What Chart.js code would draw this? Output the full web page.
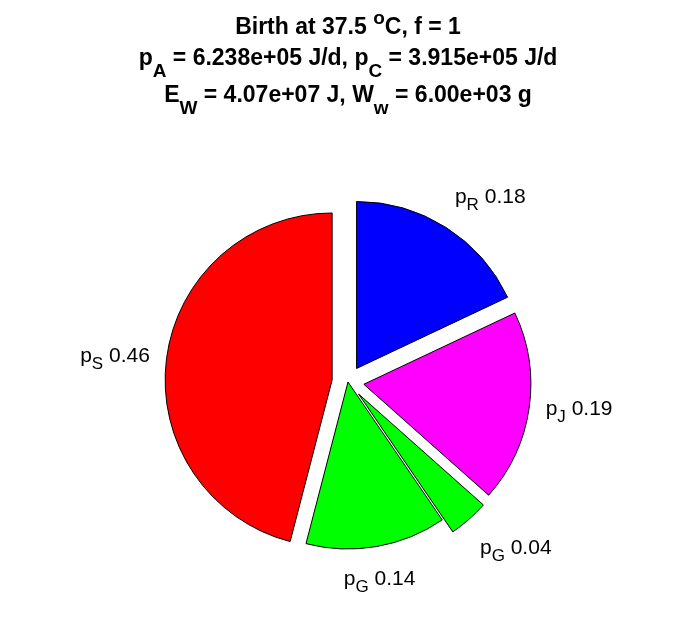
<!DOCTYPE html>
<html>
<head>
<meta charset="utf-8">
<script src="https://cdn.jsdelivr.net/npm/chart.js@4.4.0/dist/chart.umd.min.js"></script>
<style>
  html, body { margin: 0; padding: 0; background: #fff; }
  #wrap { width: 696px; height: 618px; }
</style>
</head>
<body>
<div id="wrap"><canvas id="canvas" width="696" height="618"></canvas></div>
<script>
// pie slices, clockwise from 12 o'clock
const subs = ['R', 'J', 'G', 'G', 'S'];
const fractions = [0.180, 0.186, 0.039, 0.136, 0.460];
const colors = ['#0000ff', '#ff00ff', '#00ff00', '#00ff00', '#ff0000'];
const explode = [1, 1, 1, 0, 1];

// title lines: [text, '' | 'sub' | 'sup']
const titleLines = [
  [['Birth at 37.5 ', ''], ['o', 'sup'], ['C, f = 1', '']],
  [['p', ''], ['A', 'sub'], [' = 6.238e+05 J/d, p', ''], ['C', 'sub'], [' = 3.915e+05 J/d', '']],
  [['E', ''], ['W', 'sub'], [' = 4.07e+07 J, W', ''], ['w', 'sub'], [' = 6.00e+03 g', '']]
];
const titleBaselines = [34, 65, 102];

const FONT = '"Liberation Sans", Arial, Helvetica, sans-serif';
const EXPLODE_PX = 16;

function drawRich(ctx, parts, x, y, align, size, small, bold, subDy, supDy) {
  const f = s => (bold ? 'bold ' : '') + s + 'px ' + FONT;
  let w = 0;
  parts.forEach(p => { ctx.font = f(p[1] ? small : size); w += ctx.measureText(p[0]).width; });
  let cx = align === 'left' ? x : (align === 'right' ? x - w : x - w / 2);
  ctx.textAlign = 'left';
  ctx.textBaseline = 'alphabetic';
  ctx.fillStyle = '#000';
  parts.forEach(p => {
    ctx.font = f(p[1] ? small : size);
    let dy = p[1] === 'sub' ? subDy : (p[1] === 'sup' ? -supDy : 0);
    ctx.fillText(p[0], cx, y + dy);
    cx += ctx.measureText(p[0]).width;
  });
}

// move exploded slices out along their mid angle
const explodePlugin = {
  id: 'explode',
  afterDatasetsUpdate(chart) {
    chart.getDatasetMeta(0).data.forEach((arc, i) => {
      const mid = (arc.startAngle + arc.endAngle) / 2;
      arc.x += explode[i] * EXPLODE_PX * Math.cos(mid);
      arc.y += explode[i] * EXPLODE_PX * Math.sin(mid);
    });
  }
};

const labelPlugin = {
  id: 'pieLabels',
  afterDatasetsDraw(chart) {
    const ctx = chart.ctx;
    ctx.save();
    chart.getDatasetMeta(0).data.forEach((arc, i) => {
      const mid = (arc.startAngle + arc.endAngle) / 2;
      const dx = Math.cos(mid), dy = Math.sin(mid);
      const px = arc.x + 1.1 * arc.outerRadius * dx;
      const py = arc.y + 1.1 * arc.outerRadius * dy;
      const align = Math.abs(dx) < 0.3 ? 'center' : (dx > 0 ? 'left' : 'right');
      const base = dy < -0.3 ? py - 10 : (dy > 0.3 ? py + 22 : py + 5);
      const parts = [['p', ''], [subs[i], 'sub'], [' ' + fractions[i].toFixed(2), '']];
      drawRich(ctx, parts, px, base, align, 21, 17, false, 7, 0);
    });
    titleLines.forEach((line, k) => {
      drawRich(ctx, line, 348, titleBaselines[k], 'center', 23, 19, true, 12, 10);
    });
    ctx.restore();
  }
};

const ctx = document.getElementById('canvas').getContext('2d');
const myChart = new Chart(ctx, {
  type: 'pie',
  data: {
    labels: subs.map(s => 'p' + s),
    datasets: [{
      data: fractions,
      backgroundColor: colors,
      borderColor: '#000',
      borderWidth: 1,
      clip: false
    }]
  },
  options: {
    responsive: false,
    animation: false,
    events: [],
    radius: 167,
    layout: { padding: { top: 150, bottom: 4, left: 0, right: 0 } },
    plugins: {
      legend: { display: false },
      title: { display: false },
      tooltip: { enabled: false }
    }
  },
  plugins: [explodePlugin, labelPlugin]
});
</script>
</body>
</html>
